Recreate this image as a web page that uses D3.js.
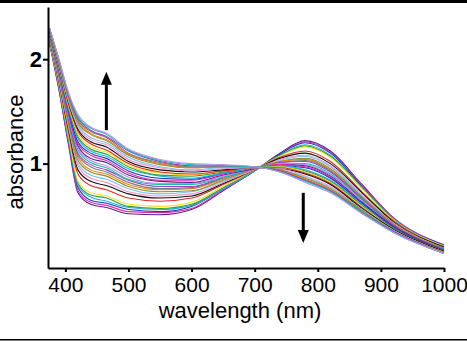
<!DOCTYPE html>
<html>
<head>
<meta charset="utf-8">
<script src="https://cdn.jsdelivr.net/npm/d3@7"></script>
<style>
    body { margin: 0; background: #fff; }
    svg { display: block; font-family: "Liberation Sans", Arial, sans-serif; }
</style>
</head>
<body>
<svg id="chart" width="467" height="341"></svg>
<script>
// wavelengths (nm) where each spectrum was read
const wavelengths = [375, 390, 405, 420, 440, 465, 500, 550, 600, 650, 700, 740, 780, 820, 870, 920, 1000];

// absorbance spectra, first scan to last scan
const spectra = [
    [2.15,1.70,1.18,0.72,0.61,0.58,0.52,0.51,0.56,0.74,0.93,1.10,1.22,1.12,0.80,0.48,0.22],
    [2.15,1.71,1.20,0.74,0.63,0.60,0.54,0.53,0.57,0.75,0.93,1.09,1.21,1.11,0.79,0.48,0.22],
    [2.16,1.72,1.21,0.77,0.65,0.62,0.56,0.54,0.59,0.76,0.93,1.09,1.20,1.10,0.78,0.47,0.22],
    [2.16,1.73,1.22,0.79,0.68,0.64,0.58,0.56,0.60,0.76,0.93,1.08,1.18,1.08,0.77,0.47,0.21],
    [2.17,1.74,1.24,0.81,0.70,0.67,0.59,0.57,0.61,0.77,0.94,1.08,1.17,1.07,0.77,0.46,0.21],
    [2.17,1.75,1.26,0.83,0.72,0.69,0.61,0.59,0.63,0.78,0.94,1.07,1.16,1.06,0.76,0.46,0.21],
    [2.19,1.77,1.30,0.90,0.79,0.75,0.67,0.64,0.67,0.80,0.94,1.06,1.12,1.02,0.73,0.45,0.20],
    [2.19,1.79,1.33,0.94,0.83,0.79,0.71,0.67,0.69,0.81,0.94,1.05,1.10,1.00,0.72,0.44,0.20],
    [2.20,1.80,1.35,0.98,0.86,0.82,0.73,0.69,0.71,0.82,0.94,1.04,1.08,0.98,0.70,0.43,0.19],
    [2.21,1.81,1.37,1.00,0.89,0.85,0.76,0.71,0.73,0.83,0.95,1.03,1.07,0.97,0.69,0.43,0.19],
    [2.21,1.83,1.39,1.03,0.92,0.88,0.78,0.73,0.74,0.84,0.95,1.02,1.05,0.95,0.68,0.42,0.19],
    [2.22,1.83,1.41,1.06,0.94,0.90,0.80,0.75,0.76,0.85,0.95,1.02,1.04,0.94,0.67,0.42,0.18],
    [2.22,1.84,1.42,1.08,0.97,0.92,0.82,0.76,0.77,0.86,0.95,1.01,1.03,0.93,0.67,0.41,0.18],
    [2.23,1.85,1.43,1.10,0.99,0.94,0.84,0.78,0.78,0.87,0.95,1.01,1.02,0.92,0.66,0.41,0.18],
    [2.23,1.86,1.45,1.13,1.01,0.96,0.85,0.80,0.80,0.87,0.95,1.00,1.00,0.90,0.65,0.40,0.18],
    [2.24,1.87,1.46,1.15,1.03,0.98,0.87,0.81,0.81,0.88,0.95,1.00,0.99,0.89,0.64,0.40,0.17],
    [2.24,1.88,1.48,1.17,1.05,1.01,0.89,0.83,0.82,0.89,0.95,0.99,0.98,0.88,0.63,0.40,0.17],
    [2.24,1.89,1.49,1.19,1.08,1.03,0.91,0.84,0.84,0.90,0.96,0.99,0.97,0.87,0.62,0.39,0.17],
    [2.25,1.90,1.51,1.21,1.10,1.05,0.93,0.86,0.85,0.91,0.96,0.98,0.96,0.86,0.62,0.39,0.17],
    [2.25,1.91,1.53,1.24,1.12,1.07,0.95,0.88,0.86,0.91,0.96,0.98,0.94,0.84,0.61,0.38,0.16],
    [2.26,1.92,1.54,1.26,1.14,1.09,0.97,0.89,0.88,0.92,0.96,0.97,0.93,0.83,0.60,0.38,0.16],
    [2.26,1.92,1.55,1.28,1.16,1.11,0.98,0.91,0.89,0.93,0.96,0.97,0.92,0.82,0.59,0.37,0.16],
    [2.27,1.93,1.57,1.31,1.19,1.13,1.00,0.92,0.90,0.93,0.96,0.96,0.91,0.81,0.58,0.37,0.16],
    [2.27,1.94,1.59,1.33,1.21,1.16,1.02,0.94,0.92,0.94,0.96,0.95,0.90,0.80,0.57,0.37,0.16],
    [2.28,1.95,1.60,1.35,1.23,1.18,1.04,0.96,0.93,0.95,0.96,0.95,0.88,0.78,0.56,0.36,0.15],
    [2.28,1.96,1.61,1.37,1.25,1.20,1.06,0.97,0.94,0.96,0.96,0.94,0.87,0.77,0.56,0.36,0.15],
    [2.28,1.97,1.63,1.39,1.28,1.22,1.08,0.99,0.96,0.97,0.97,0.94,0.86,0.76,0.55,0.35,0.15],
    [2.29,1.98,1.64,1.41,1.29,1.23,1.09,1.00,0.96,0.97,0.97,0.93,0.85,0.75,0.54,0.35,0.15],
    [2.29,1.98,1.65,1.42,1.31,1.25,1.10,1.01,0.97,0.97,0.97,0.93,0.84,0.74,0.54,0.35,0.14],
    [2.29,1.99,1.66,1.44,1.32,1.26,1.12,1.02,0.98,0.98,0.97,0.93,0.84,0.74,0.53,0.35,0.14],
    [2.30,1.99,1.67,1.45,1.34,1.28,1.13,1.03,0.99,0.98,0.97,0.92,0.83,0.73,0.53,0.34,0.14],
    [2.30,2.00,1.68,1.47,1.35,1.29,1.14,1.04,1.00,0.99,0.97,0.92,0.82,0.72,0.52,0.34,0.14]
];

const xTicks = [400, 500, 600, 700, 800, 900, 1000];
const yTicks = [1, 2];

// arrows: wavelength, absorbance at tail, absorbance at head
const arrowWl = [465, 777];
const arrowFrom = [1.32, 0.72];
const arrowTo = [1.88, 0.24];

const lineColors = ["#5a1f8c", "#e030a8", "#1a38c8", "#22b0e8", "#2f9e40", "#f2e020",
    "#e02a20", "#111111", "#f890c8", "#70c0ff", "#8c8c20", "#f08018",
    "#7a7a7a", "#9a40c0", "#10c0a8", "#b890f0"];

let svg = d3.select("#chart");
let margin = {top: 7, left: 48, right: 23, bottom: 73};
let width = 467 - margin.left - margin.right;
let height = 341 - margin.top - margin.bottom;

// frame lines top and bottom
svg.append("rect").attr("x", 0).attr("y", 0).attr("width", 467).attr("height", 3).attr("fill", "#000");
svg.append("rect").attr("x", 0).attr("y", 339).attr("width", 467).attr("height", 1.5).attr("fill", "#000");

let g = svg.append("g").attr("transform", "translate(" + margin.left + "," + margin.top + ")");

let xScale = d3.scaleLinear().domain([372.5, 1000]).range([0, width]);
let yScale = d3.scaleLinear().domain([0, 2.5]).range([height, 0]);

let line = d3.line()
    .curve(d3.curveMonotoneX)
    .x(function (d, i) { return xScale(wavelengths[i]); })
    .y(function (d) { return yScale(d); });

g.append("g").attr("id", "lines")
    .selectAll("path")
    .data(spectra)
    .enter().append("path")
    .attr("fill", "none")
    .attr("stroke", function (d, i) { return lineColors[i % lineColors.length]; })
    .attr("stroke-width", 1.1)
    .attr("d", line);

// axes
let xAxis = d3.axisBottom(xScale).tickValues(xTicks).tickSize(4).tickSizeOuter(0).tickPadding(5).tickFormat(d3.format("d"));
let yAxis = d3.axisLeft(yScale).tickValues(yTicks).tickSize(5).tickSizeOuter(0).tickPadding(1).tickFormat(d3.format("d"));

let xg = g.append("g").attr("transform", "translate(0," + height + ")").call(xAxis);
let yg = g.append("g").call(yAxis);

[xg, yg].forEach(function (a) {
    a.select(".domain").attr("stroke", "#000").attr("stroke-width", 2);
    a.selectAll(".tick line").attr("stroke", "#000").attr("stroke-width", 2);
});
xg.selectAll(".tick text").attr("font-size", 21).attr("fill", "#000").attr("font-family", "Liberation Sans, Arial, sans-serif");
yg.selectAll(".tick text").attr("font-size", 22).attr("font-weight", "bold").attr("fill", "#000").attr("font-family", "Liberation Sans, Arial, sans-serif");

// axis titles
svg.append("text")
    .attr("x", 240).attr("y", 318)
    .attr("text-anchor", "middle")
    .attr("font-size", 22)
    .text("wavelength (nm)");

svg.append("text")
    .attr("transform", "translate(23,152) rotate(-90)")
    .attr("text-anchor", "middle")
    .attr("font-size", 22)
    .text("absorbance");

// arrows
for (let i = 0; i < arrowWl.length; i++) {
    let x = xScale(arrowWl[i]);
    let y1 = yScale(arrowFrom[i]);
    let y2 = yScale(arrowTo[i]);
    let dir = y2 < y1 ? -1 : 1;
    g.append("line")
        .attr("x1", x).attr("x2", x)
        .attr("y1", y1).attr("y2", y2 - dir * 10)
        .attr("stroke", "#000").attr("stroke-width", 3);
    g.append("path")
        .attr("fill", "#000")
        .attr("d", "M" + x + "," + y2 + "L" + (x - 5.5) + "," + (y2 - dir * 13) + "L" + (x + 5.5) + "," + (y2 - dir * 13) + "Z");
}
</script>
</body>
</html>
